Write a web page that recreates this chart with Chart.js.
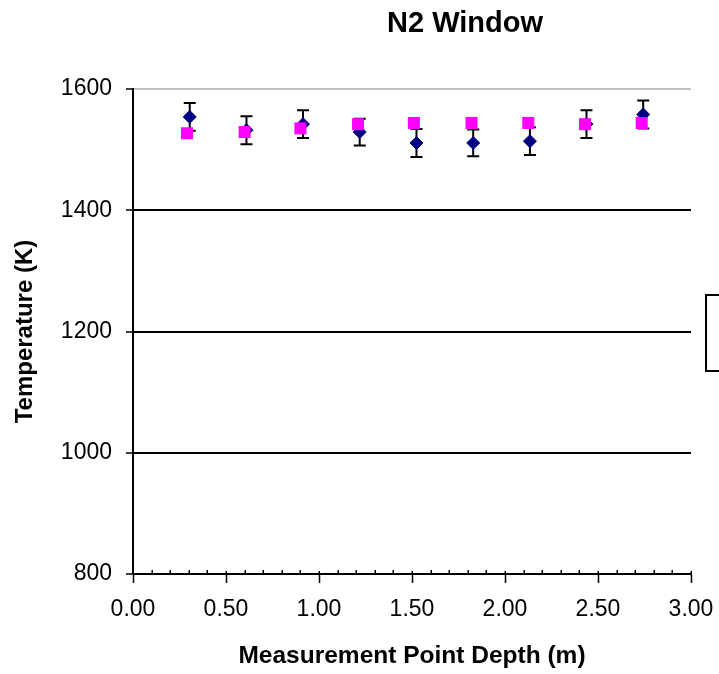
<!DOCTYPE html>
<html>
<head>
<meta charset="utf-8">
<title>N2 Window</title>
<script src="https://cdn.jsdelivr.net/npm/chart.js@4.4.0/dist/chart.umd.min.js"></script>
<style>
  html, body { margin: 0; padding: 0; background: #fff; overflow: hidden; }
  #wrap { width: 719px; height: 674px; overflow: hidden; }
  canvas { display: block; }
</style>
</head>
<body>
<div id="wrap"><canvas id="chart" width="930" height="674"></canvas></div>
<script>
// measured points (diamonds) with error bars
const measDepth = [0.305, 0.61, 0.914, 1.219, 1.524, 1.829, 2.134, 2.438, 2.743];
const measTemp  = [1554, 1532, 1542, 1529, 1511, 1511, 1514, 1542, 1558];
const measErr   = [23, 23, 23, 22, 23, 22, 23, 23, 23];

// second series (squares)
const calcDepth = [0.29, 0.60, 0.90, 1.21, 1.51, 1.82, 2.125, 2.43, 2.735];
const calcTemp  = [1527, 1529, 1535, 1542, 1544, 1544, 1544, 1542, 1544];

const yTicks = [800, 1000, 1200, 1400, 1600];
const xTicks = [0, 0.5, 1, 1.5, 2, 2.5, 3];
const xMinorStep = 0.1;

const FONT = "'Liberation Sans', Arial, sans-serif";

const errorBars = {
  id: 'errorBars',
  beforeDatasetsDraw(chart) {
    const { ctx, scales: { x, y } } = chart;
    ctx.save();
    ctx.strokeStyle = '#000';
    ctx.lineWidth = 2;
    measDepth.forEach((d, i) => {
      const px = x.getPixelForValue(d);
      const top = y.getPixelForValue(measTemp[i] + measErr[i]);
      const bot = y.getPixelForValue(measTemp[i] - measErr[i]);
      ctx.beginPath();
      ctx.moveTo(px, top); ctx.lineTo(px, bot);
      ctx.moveTo(px - 6, top); ctx.lineTo(px + 6, top);
      ctx.moveTo(px - 6, bot); ctx.lineTo(px + 6, bot);
      ctx.stroke();
    });
    ctx.restore();
  }
};

// little inside ticks on the x axis, like the original
const minorTicks = {
  id: 'minorTicks',
  afterDraw(chart) {
    const { ctx, scales: { x } } = chart;
    const base = chart.chartArea.bottom;
    ctx.save();
    ctx.strokeStyle = '#000';
    ctx.lineWidth = 1.5;
    ctx.beginPath();
    for (let v = x.min; v <= x.max + 1e-9; v += xMinorStep) {
      const px = Math.round(x.getPixelForValue(v)) + 0.25;
      const major = xTicks.some(t => Math.abs(t - v) < 1e-6);
      ctx.moveTo(px, base);
      ctx.lineTo(px, base - (major ? 3 : 4));
    }
    ctx.stroke();
    ctx.restore();
  }
};

// Excel style legend box, mostly outside the visible frame
const legendBox = {
  id: 'legendBox',
  afterDraw(chart) {
    const { ctx } = chart;
    const bx = chart.chartArea.right + 15, by = 295, bw = 190, bh = 76;
    ctx.save();
    ctx.strokeStyle = '#000';
    ctx.lineWidth = 2;
    ctx.strokeRect(bx, by, bw, bh);
    ctx.font = '20px ' + FONT;
    ctx.textBaseline = 'middle';
    chart.data.datasets.forEach((ds, i) => {
      const cy = by + 22 + i * 32;
      ctx.fillStyle = ds.backgroundColor;
      if (i === 0) {
        ctx.beginPath();
        ctx.moveTo(bx + 30, cy - 6); ctx.lineTo(bx + 36, cy);
        ctx.lineTo(bx + 30, cy + 6); ctx.lineTo(bx + 24, cy);
        ctx.closePath(); ctx.fill();
      } else {
        ctx.fillRect(bx + 24, cy - 6, 12, 12);
      }
      ctx.fillStyle = '#000';
      ctx.fillText(ds.label, bx + 48, cy);
    });
    ctx.restore();
  }
};

new Chart(document.getElementById('chart'), {
  type: 'scatter',
  data: {
    datasets: [
      {
        label: 'Measured',
        data: measDepth.map((d, i) => ({ x: d, y: measTemp[i] })),
        pointStyle: 'rectRot',
        pointRadius: 6.5,
        borderWidth: 1,
        backgroundColor: '#000080',
        borderColor: '#000080',
        order: 2
      },
      {
        label: 'Predicted',
        data: calcDepth.map((d, i) => ({ x: d, y: calcTemp[i] })),
        pointStyle: 'rect',
        pointRadius: 8.5,
        borderWidth: 0,
        backgroundColor: '#ff00ff',
        borderColor: '#ff00ff',
        order: 1
      }
    ]
  },
  options: {
    responsive: false,
    animation: false,
    layout: { padding: 0 },
    plugins: {
      legend: { display: false },
      tooltip: { enabled: false },
      title: {
        display: true,
        text: 'N2 Window',
        color: '#000',
        font: { family: FONT, size: 29, weight: 'bold', lineHeight: 1.2 },
        padding: { top: 6.6, bottom: 47.6 }
      }
    },
    scales: {
      x: {
        type: 'linear',
        min: 0,
        max: 3,
        afterBuildTicks: s => { s.ticks = xTicks.map(v => ({ value: v })); },
        afterFit: s => { s.height = 100; },
        grid: { drawOnChartArea: false, tickLength: 9, tickColor: '#000', tickWidth: 1.5 },
        border: { color: '#000', width: 2 },
        ticks: {
          color: '#000',
          padding: 12.5,
          font: { family: FONT, size: 23 },
          callback: v => Number(v).toFixed(2)
        },
        title: {
          display: true,
          text: 'Measurement Point Depth (m)',
          color: '#000',
          font: { family: FONT, size: 24.5, weight: 'bold' },
          padding: { top: 0, bottom: 3 }
        }
      },
      y: {
        type: 'linear',
        min: 800,
        max: 1600,
        afterBuildTicks: s => { s.ticks = yTicks.map(v => ({ value: v })); },
        afterFit: s => { s.width = 133; },
        grid: {
          color: c => (c.tick && c.tick.value === 1600) ? '#c0c0c0' : '#000',
          lineWidth: 2,
          tickLength: 7,
          tickColor: '#000',
          tickWidth: 1.5
        },
        border: { color: '#000', width: 2 },
        ticks: {
          color: '#000',
          padding: 14,
          font: { family: FONT, size: 23 },
          callback: v => String(v)
        },
        title: {
          display: true,
          text: 'Temperature (K)',
          color: '#000',
          font: { family: FONT, size: 24, weight: 'bold' },
          padding: { top: 11, bottom: 0 }
        }
      },
      yRight: {
        position: 'right',
        display: true,
        grid: { display: false },
        border: { display: false },
        ticks: { display: false },
        afterFit: s => { s.width = 239; }
      }
    }
  },
  plugins: [errorBars, minorTicks, legendBox]
});
</script>
</body>
</html>
